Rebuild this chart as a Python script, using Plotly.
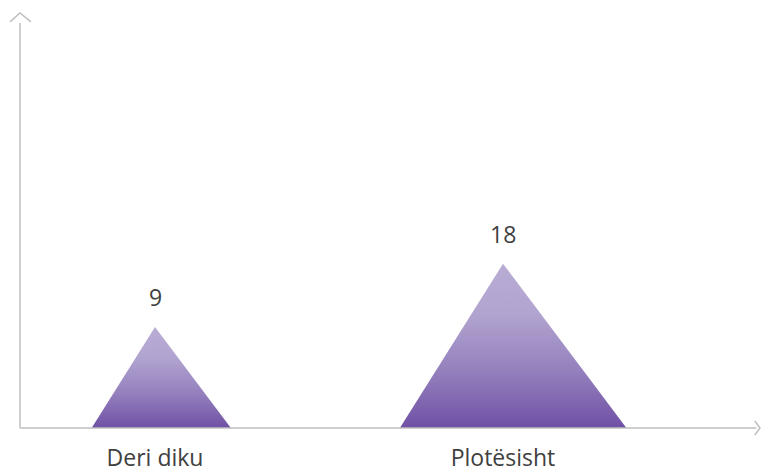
import plotly.graph_objects as go

categories = ["Deri diku", "Plotësisht"]
values = [9, 18]

# axis ranges picked so the layout matches the original picture
y_base = -5.34
y_top = 53.59
x_left = -0.388
x_right = 1.7385
# the pyramids lean slightly: the right flank is wider than the left
spread_left = 0.0127
spread_right = 0.0152

axis_grey = "#bfbfbf"
text_grey = "#404040"
pyramid_scale = [[0, "#7050a5"], [0.35, "#9481bd"], [0.7, "#b2a4d0"], [1, "#b8acd4"]]

fig = go.Figure()

for i, v in enumerate(values):
    h = v - y_base
    fig.add_trace(
        go.Scatter(
            x=[i - spread_left * h, i, i + spread_right * h, i - spread_left * h],
            y=[y_base, v, y_base, y_base],
            mode="lines",
            line=dict(width=0),
            fill="toself",
            fillgradient=dict(type="vertical", colorscale=pyramid_scale),
            hoverinfo="skip",
            showlegend=False,
        )
    )
    fig.add_annotation(
        x=i,
        y=v,
        text=str(v),
        showarrow=False,
        yshift=30,
        font=dict(size=23, color=text_grey, family="Open Sans"),
    )

# axis lines with open arrow heads
fig.add_shape(type="line", xref="paper", yref="paper", x0=0, x1=0, y0=0, y1=0.976,
              line=dict(color=axis_grey, width=1.5))
fig.add_shape(type="path", xref="paper", yref="paper",
              path="M -0.0135,0.9785 L 0,1 L 0.0149,0.9785",
              line=dict(color=axis_grey, width=1.5))
fig.add_shape(type="line", xref="paper", yref="paper", x0=0, x1=0.995, y0=0, y1=0,
              line=dict(color=axis_grey, width=1.5))
fig.add_shape(type="path", xref="paper", yref="paper",
              path="M 0.993,0.0167 L 1,0 L 0.993,-0.0167",
              line=dict(color=axis_grey, width=1.5))

fig.update_layout(
    width=761,
    height=474,
    margin=dict(l=20, r=1, t=13, b=42),
    paper_bgcolor="white",
    plot_bgcolor="white",
    xaxis=dict(
        range=[x_left, x_right],
        tickvals=list(range(len(categories))),
        ticktext=categories,
        showgrid=False,
        zeroline=False,
        showline=False,
        ticks="",
        ticklabelstandoff=14,
        tickfont=dict(size=23, color=text_grey, family="Open Sans"),
    ),
    yaxis=dict(
        range=[y_base, y_top],
        showgrid=False,
        zeroline=False,
        showline=False,
        showticklabels=False,
        ticks="",
    ),
)

# drop the default page margin so the figure sits at the window's corner
fig.write_html(
    "out.html",
    config={"displayModeBar": False},
    post_script="document.body.style.margin='0px';",
)
